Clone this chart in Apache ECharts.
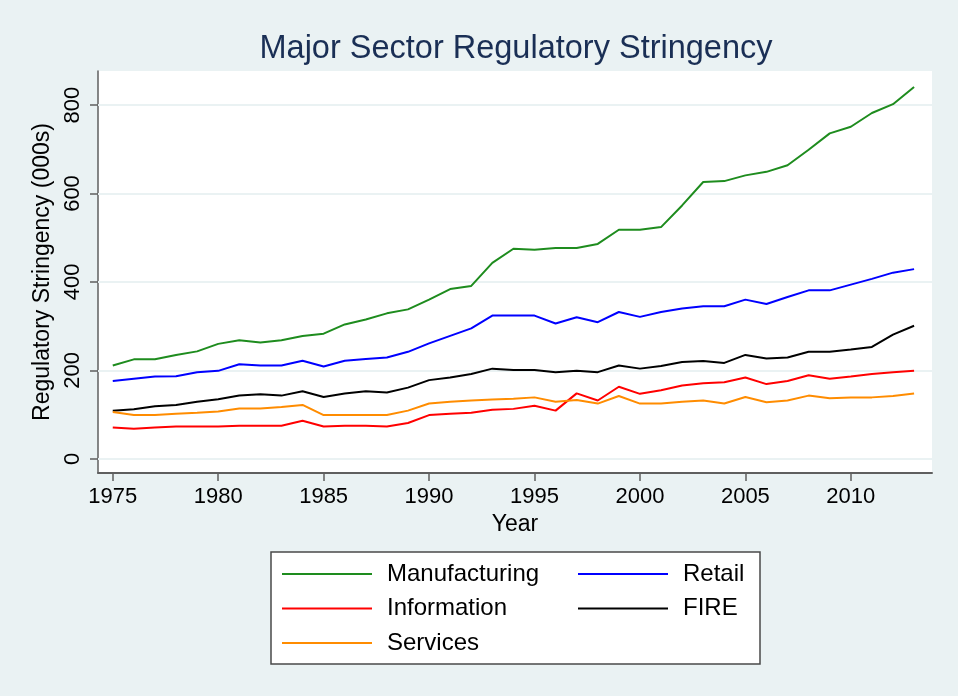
<!DOCTYPE html>
<html>
<head>
<meta charset="utf-8">
<script src="https://cdn.jsdelivr.net/npm/echarts@6/dist/echarts.min.js"></script>
<style>
  html, body { margin: 0; padding: 0; background: #fff; }
  #chart { width: 958px; height: 696px; }
</style>
</head>
<body>
<div id="chart"></div>
<script>
// years 1975-2013
const years = [];
for (let y = 1975; y <= 2013; y++) years.push(y);

const manufacturing = [211, 225, 225, 235, 243, 260, 268, 263, 268, 278,
  283, 304, 315, 329, 338, 360, 384, 391, 443, 475,
  473, 477, 477, 486, 518, 518, 524, 573, 626, 628,
  641, 649, 664, 699, 736, 751, 782, 802, 841];
const retail = [176, 181, 186, 187, 196, 199, 214, 211, 211, 222,
  209, 222, 226, 229, 242, 261, 278, 295, 324, 324,
  324, 306, 320, 309, 332, 321, 332, 340, 345, 345,
  360, 350, 366, 381, 381, 394, 407, 421, 429];
const information = [71, 68, 71, 73, 73, 73, 75, 75, 75, 86,
  73, 75, 75, 73, 81, 99, 102, 104, 111, 113,
  120, 109, 148, 132, 163, 147, 155, 166, 171, 173,
  184, 169, 176, 189, 181, 186, 192, 196, 199];
const fire = [109, 112, 119, 122, 129, 135, 143, 146, 143, 153,
  140, 148, 153, 150, 161, 178, 184, 192, 204, 201,
  201, 196, 199, 196, 211, 204, 210, 219, 221, 217,
  235, 227, 229, 242, 242, 247, 253, 281, 301];
const services = [106, 99, 99, 102, 104, 107, 114, 114, 117, 122,
  99, 99, 99, 99, 109, 125, 129, 132, 134, 136,
  139, 129, 133, 125, 142, 125, 125, 129, 132, 125,
  140, 128, 132, 143, 137, 139, 139, 142, 148];

const xTicks = [1975, 1980, 1985, 1990, 1995, 2000, 2005, 2010];
const yTicks = [0, 200, 400, 600, 800];

const font = 'Liberation Sans';
const axisColor = '#5f5f5f';

const pairs = arr => arr.map((v, i) => [years[i], v]);

const line = (name, data, color) => ({
  name,
  type: 'line',
  data: pairs(data),
  symbol: 'none',
  zlevel: 1,
  lineStyle: { color, width: 2 },
  itemStyle: { color },
});

const legendText = { fontFamily: font, fontSize: 24, lineHeight: 24, color: '#000', padding: [0, 0, 0, 10] };

const chart = echarts.init(document.getElementById('chart'));

chart.setOption({
  backgroundColor: '#EAF2F3',
  animation: false,
  textStyle: { fontFamily: font },
  title: {
    text: 'Major Sector Regulatory Stringency',
    left: 511,
    top: 28,
    textAlign: 'center',
    textStyle: { fontFamily: font, fontSize: 32.5, fontWeight: 'normal', color: '#1A2F55' },
  },
  grid: {
    left: 98, right: 26, top: 71, bottom: 223,
    show: true, backgroundColor: '#fff', borderWidth: 0,
  },
  xAxis: {
    type: 'value',
    min: 1974.3,
    max: 2013.85,
    name: 'Year',
    nameLocation: 'middle',
    nameGap: 39,
    nameTextStyle: { fontFamily: font, fontSize: 23, color: '#000' },
    axisLine: { show: true, onZero: false, lineStyle: { color: axisColor, width: 2 } },
    axisTick: { show: true, length: 8, customValues: xTicks, lineStyle: { color: axisColor, width: 1.5 } },
    axisLabel: {
      customValues: xTicks, margin: 13, fontSize: 22, color: '#000', fontFamily: font,
      formatter: v => String(v),
    },
    splitLine: { show: false },
  },
  yAxis: {
    type: 'value',
    min: -32,
    max: 877,
    name: 'Regulatory Stringency (000s)',
    nameLocation: 'middle',
    nameRotate: 90,
    nameGap: 35,
    nameTextStyle: { fontFamily: font, fontSize: 23, color: '#000' },
    axisLine: { show: true, onZero: false, lineStyle: { color: axisColor, width: 1.5 } },
    axisTick: { show: true, length: 8, customValues: yTicks, lineStyle: { color: axisColor, width: 1.5 } },
    axisLabel: {
      customValues: yTicks, rotate: 90, margin: 14, fontSize: 22, color: '#000', fontFamily: font,
      formatter: v => String(v),
    },
    splitLine: { show: false },
  },
  legend: [
    {
      data: ['Manufacturing', 'Information', 'Services'],
      orient: 'vertical',
      left: 277,
      top: 557,
      icon: 'rect',
      itemWidth: 90,
      itemHeight: 2,
      itemGap: 10.5,
      textStyle: legendText,
    },
    {
      data: ['Retail', 'FIRE'],
      orient: 'vertical',
      left: 573,
      top: 557,
      icon: 'rect',
      itemWidth: 90,
      itemHeight: 2,
      itemGap: 10.5,
      textStyle: legendText,
    },
  ],
  graphic: [
    {
      type: 'rect',
      z: 0,
      shape: { x: 271, y: 552, width: 489, height: 112 },
      style: { fill: '#fff', stroke: '#4a4a4a', lineWidth: 1.5 },
    },
  ],
  series: [
    {
      name: 'grid',
      type: 'line',
      data: [],
      markLine: {
        silent: true,
        symbol: 'none',
        label: { show: false },
        lineStyle: { color: '#EAF2F3', width: 2, type: 'solid' },
        data: yTicks.map(v => ({ yAxis: v })),
      },
    },
    line('Manufacturing', manufacturing, '#1E8C1E'),
    line('Retail', retail, '#0000FF'),
    line('Information', information, '#FF0000'),
    line('FIRE', fire, '#000000'),
    line('Services', services, '#FF8C00'),
  ],
});
</script>
</body>
</html>
